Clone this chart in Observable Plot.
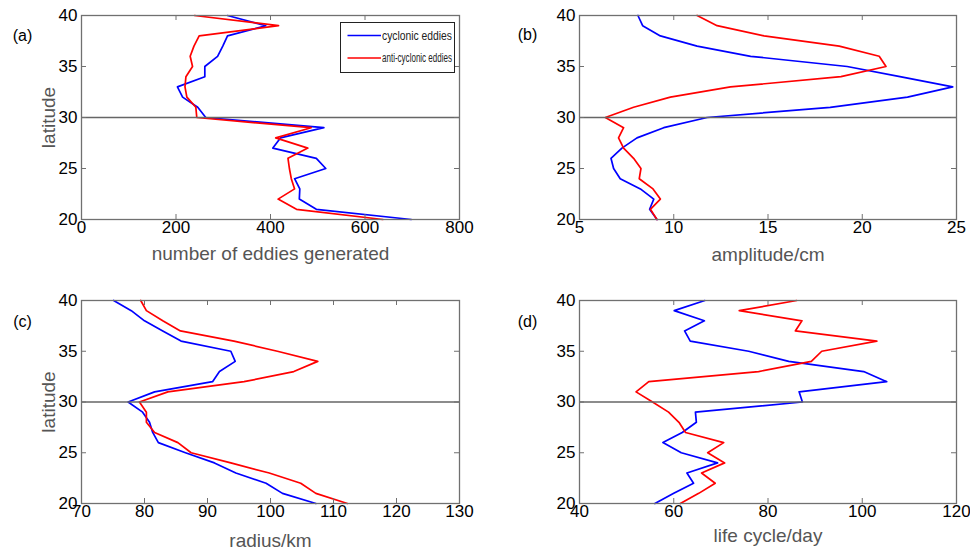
<!DOCTYPE html>
<html><head><meta charset="utf-8">
<script src="https://cdn.jsdelivr.net/npm/d3@7"></script>
<script src="https://cdn.jsdelivr.net/npm/@observablehq/plot@0.6"></script>
<style>
html,body{margin:0;padding:0;background:#fff;}
#root{position:relative;width:970px;height:551px;overflow:hidden;font-family:"Liberation Sans",Arial,Helvetica,sans-serif;background:#fff;}
#root > svg{position:absolute;overflow:visible;}
</style></head><body><div id="root"></div>
<script>
// latitude (degrees N), shared by every panel
const latitude = [20,21,22,23,24,25,26,27,28,29,30,31,32,33,34,35,36,37,38,39,40];
const latTicks = [20,25,30,35,40];
const seriesNames = ["cyclonic eddies","anti-cyclonic eddies"];

// (a) number of eddies generated
const countCyclonic = [698,497,461,462,451,517,497,405,421,513,263,246,214,203,261,261,288,299,309,390,309];
const countAnti     = [638,455,416,451,444,440,437,479,411,486,244,242,223,219,221,235,230,238,249,417,239];
const countTicks = [0,200,400,600,800];

// (b) amplitude / cm
const ampCyclonic = [9.11,8.72,8.94,8.23,7.16,6.81,6.67,7.25,8.05,9.47,11.77,18.3,22.4,24.8,22.0,19.2,14.08,11.24,9.29,8.35,8.10];
const ampAnti     = [9.11,8.76,9.29,8.9,8.17,8.26,7.87,7.34,7.07,7.34,6.37,7.87,9.82,13.01,18.87,21.26,20.9,18.78,14.79,12.30,11.24];
const ampTicks = [5,10,15,20,25];

// (c) radius / km
const radCyclonic = [107.2,101.9,99.3,94.5,91.1,86.5,82.2,81.3,80.8,79.7,77.4,81.6,90.8,91.9,94.4,93.7,85.8,82.9,80.0,77.9,75.1];
const radAnti     = [112.2,107.2,104.8,99.8,93.7,87.4,85.3,81.6,80.3,80.3,79.2,83.7,95.8,103.7,107.5,101.1,94.2,85.7,82.9,80.3,79.4];
const radTicks = [70,80,90,100,110,120,130];

// (d) life cycle / day
const lifeCyclonic = [56.0,60.0,64.2,62.8,69.3,61.6,57.7,61.8,64.8,64.6,87.3,86.6,105.2,100.3,84.4,75.9,63.5,62.3,66.5,60.1,66.6];
const lifeAnti     = [61.4,65.3,68.8,65.9,70.8,67.2,70.6,62.5,61.1,58.9,55.5,52.0,54.7,78.0,89.2,91.4,103.1,85.8,87.2,73.9,86.1];
const lifeTicks = [40,60,80,100,120];

const panels = [
  {tag:"(a)", title:"number of eddies generated", c:countCyclonic, a:countAnti, ticks:countTicks, domain:[0,800],
   left:0, top:0, width:485, height:280, mt:15, mb:61, ml:81, mr:26, ylabel:true, titleDy:40, titleLen:238, tagDx:22-81, tagDy:14},
  {tag:"(b)", title:"amplitude/cm", c:ampCyclonic, a:ampAnti, ticks:ampTicks, domain:[5,25],
   left:485, top:0, width:485, height:280, mt:15, mb:61, ml:94, mr:14, ylabel:false, titleDy:41, titleLen:104, tagDx:527-579, tagDy:13},
  {tag:"(c)", title:"radius/km", c:radCyclonic, a:radAnti, ticks:radTicks, domain:[70,130],
   left:0, top:280, width:485, height:271, mt:20, mb:48, ml:81, mr:26, ylabel:true, titleDy:43, titleLen:88, tagDx:22-81, tagDy:15},
  {tag:"(d)", title:"life cycle/day", c:lifeCyclonic, a:lifeAnti, ticks:lifeTicks, domain:[40,120],
   left:485, top:280, width:485, height:271, mt:20, mb:48, ml:94, mr:14, ylabel:false, titleDy:38, titleLen:104, tagDx:527-579, tagDy:15}
];

const root = document.getElementById("root");
const frameColor = "#707070";
const tickFont = 17;

panels.forEach(p => {
  const rows = latitude.map((lat, i) => ({lat, c: p.c[i], a: p.a[i]}));
  const plotW = p.width - p.ml - p.mr;
  const plotH = p.height - p.mt - p.mb;
  const marks = [
    Plot.line(rows, {x: "c", y: "lat", stroke: "#0000ff", strokeWidth: 1.7}),
    Plot.line(rows, {x: "a", y: "lat", stroke: "#ff0000", strokeWidth: 1.7}),
    Plot.ruleY([30], {stroke: "#666", strokeWidth: 1.5}),
    Plot.frame({stroke: frameColor, strokeWidth: 1.3}),
    // inward ticks on all four sides
    Plot.tickX(p.ticks, {x: d => d, stroke: frameColor, insetTop: plotH - 5}),
    Plot.tickX(p.ticks, {x: d => d, stroke: frameColor, insetBottom: plotH - 5}),
    Plot.tickY(latTicks, {y: d => d, stroke: frameColor, insetRight: plotW - 5}),
    Plot.tickY(latTicks, {y: d => d, stroke: frameColor, insetLeft: plotW - 5}),
    Plot.axisX(p.ticks, {anchor: "bottom", tickSize: 0, tickPadding: 1, fontSize: tickFont, fill: "#000", label: null}),
    Plot.axisY(latTicks, {anchor: "left", tickSize: 0, tickPadding: 4, fontSize: tickFont, fill: "#000", label: null}),
    Plot.text([p.title], {text: d => d, frameAnchor: "bottom", dy: p.titleDy, lineAnchor: "bottom",
      fill: "#555", fontSize: 19, ariaLabel: "xtitle"}),
    Plot.text([p.tag], {text: d => d, frameAnchor: "top-left", dx: p.tagDx, dy: p.tagDy,
      textAnchor: "middle", fill: "#000", fontSize: 16})
  ];
  if (p.ylabel) {
    marks.push(Plot.text(["latitude"], {text: d => d, frameAnchor: "left", rotate: -90, dx: -40, lineAnchor: "top",
      textAnchor: "middle", fill: "#555", fontSize: 19, ariaLabel: "ytitle"}));
  }
  const svg = Plot.plot({
    width: p.width, height: p.height,
    marginTop: p.mt, marginBottom: p.mb, marginLeft: p.ml, marginRight: p.mr,
    x: {domain: p.domain},
    y: {domain: [20, 40]},
    style: {fontFamily: '"Liberation Sans", Arial, sans-serif', background: "transparent", overflow: "visible"},
    marks
  });
  svg.style.left = p.left + "px";
  svg.style.top = p.top + "px";
  d3.select(svg).selectAll('text[aria-label="xtitle"], g[aria-label="xtitle"] text')
    .attr("textLength", p.titleLen).attr("lengthAdjust", "spacingAndGlyphs");
  d3.select(svg).selectAll('text[aria-label="ytitle"], g[aria-label="ytitle"] text')
    .attr("textLength", 83).attr("lengthAdjust", "spacingAndGlyphs");
  root.appendChild(svg);
});

// legend for panel (a)
const legendColors = ["#0000ff", "#ff0000"];
const leg = d3.select(root).append("svg")
  .attr("width", 120).attr("height", 56)
  .style("left", "338px").style("top", "20px");
leg.append("rect").attr("x", 2.5).attr("y", 2.5).attr("width", 114).attr("height", 50)
  .attr("fill", "#fff").attr("stroke", "#222").attr("stroke-width", 1);
seriesNames.forEach((name, i) => {
  const y = i === 0 ? 15.5 : 38;
  leg.append("line").attr("x1", 9.5).attr("x2", 43).attr("y1", y).attr("y2", y)
    .attr("stroke", legendColors[i]).attr("stroke-width", 1.7);
  leg.append("text").attr("x", 44).attr("y", y).attr("dy", "0.35em")
    .attr("font-size", 12.5).attr("fill", "#222")
    .attr("textLength", 70).attr("lengthAdjust", "spacingAndGlyphs")
    .text(name);
});
</script>
</body></html>
